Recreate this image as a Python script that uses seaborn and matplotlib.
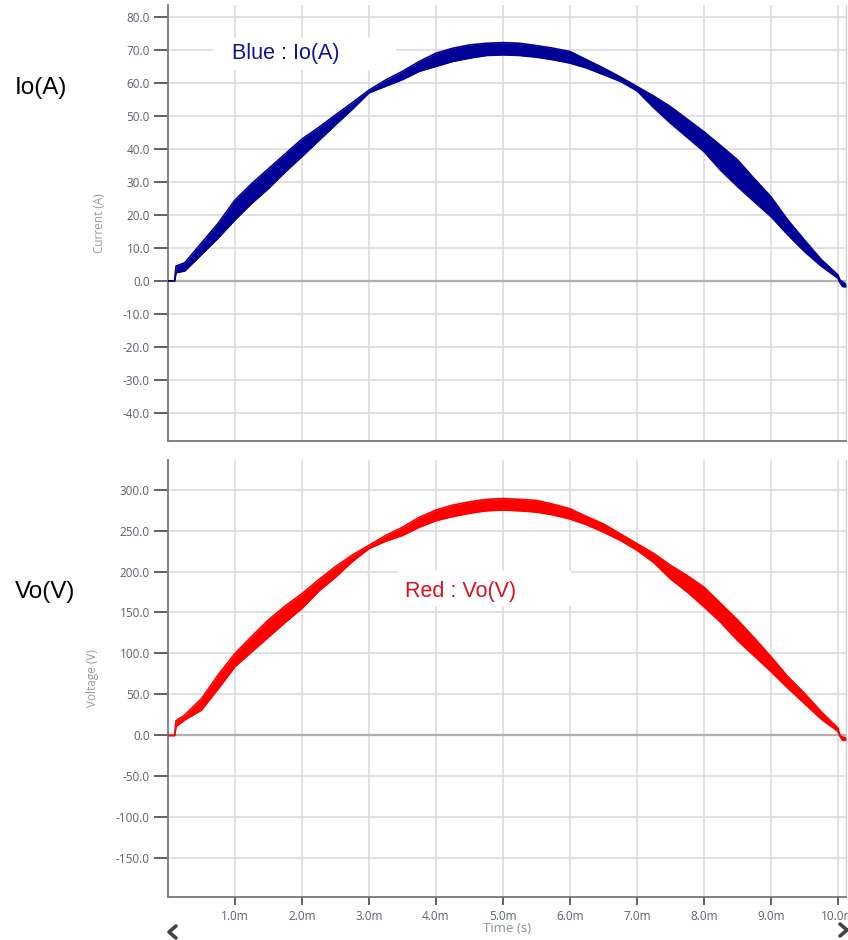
import seaborn as sns
import matplotlib.pyplot as plt
from matplotlib.patches import Rectangle
from matplotlib.lines import Line2D
from matplotlib.ticker import FixedLocator, FuncFormatter

# time axis in ms (upper / lower edge of the ripple band)
time_ms = [0.0, 0.1, 0.12, 0.25,
           0.5, 0.75, 1.0, 1.25, 1.5, 1.75, 2.0, 2.25, 2.5, 2.75,
           3.0, 3.25, 3.5, 3.75, 4.0, 4.25, 4.5, 4.75, 5.0, 5.25,
           5.5, 5.75, 6.0, 6.25, 6.5, 6.75, 7.0, 7.25, 7.5, 7.75,
           8.0, 8.25, 8.5, 8.75, 9.0, 9.25, 9.5, 9.75, 10.0,
           10.03, 10.07, 10.12]

io_upper = [0, 0, 4.5, 5.5,
            11.5, 17.5, 24.5, 29.5, 34.0, 38.5, 43.0, 46.5, 50.3, 54.0,
            57.8, 60.9, 63.5, 66.5, 69.0, 70.5, 71.5, 72.0, 72.2, 72.0,
            71.3, 70.5, 69.5, 67.0, 64.5, 61.8, 58.9, 56.0, 52.8, 49.0,
            45.2, 41.0, 36.7, 31.0, 25.5, 18.5, 12.4, 6.5, 1.8,
            0.3, -0.3, -1.0]
io_lower = [0, 0, 2.5, 3.0,
            8.0, 13.0, 18.5, 23.5, 28.0, 33.0, 37.7, 42.5, 47.3, 52.0,
            57.0, 59.0, 61.0, 63.5, 65.0, 66.5, 67.5, 68.3, 68.5, 68.3,
            67.8, 67.0, 66.0, 64.5, 62.5, 60.5, 57.6, 52.5, 47.8, 43.5,
            39.2, 33.5, 28.6, 24.0, 19.5, 14.0, 8.9, 4.5, 0.8,
            -0.5, -1.7, -1.8]

vo_upper = [0, 0, 18, 25,
            45, 74, 100, 121, 141, 158, 173, 190, 206, 220,
            232, 244, 254, 266, 275, 281, 285, 288, 289, 288,
            286.7, 282, 276.5, 267, 258, 246, 234, 222, 207.6, 195,
            181, 161, 141, 119, 96, 72, 51.5, 29, 9,
            0, -2, -3]
vo_lower = [0, 0, 11, 19,
            31, 57, 84, 102, 120, 138, 155, 176, 193, 212,
            228, 237, 244, 254, 262, 267, 271, 274, 275, 274,
            272.5, 269, 264, 257, 248, 238, 226, 211, 191, 175,
            157, 138, 116, 97, 78, 58, 39, 20, 5,
            -1, -6, -6]

x_ticks = [1, 2, 3, 4, 5, 6, 7, 8, 9, 10]
io_ticks = [-40, -30, -20, -10, 0, 10, 20, 30, 40, 50, 60, 70, 80]
vo_ticks = [-150, -100, -50, 0, 50, 100, 150, 200, 250, 300]

sns.set_style("white")
plt.rcParams['font.family'] = ['Open Sans', 'DejaVu Sans']

W, H = 848, 940
fig = plt.figure(figsize=(W / 100, H / 100), dpi=100)


def px_box(l, t, r, b):
    return [l / W, 1 - b / H, (r - l) / W, (b - t) / H]


ax1 = fig.add_axes(px_box(168, 5, 846, 441))
ax2 = fig.add_axes(px_box(168, 460, 846, 897))

tick_col = '#5b6370'
for ax, up, lo, col, yt, ylim, ylab, lab_x in [
        (ax1, io_upper, io_lower, '#000096', io_ticks, (-48.5, 83.6), 'Current (A)', -0.0915),
        (ax2, vo_upper, vo_lower, '#ff0000', vo_ticks, (-197, 336), 'Voltage (V)', -0.102)]:
    ax.fill_between(time_ms, lo, up, color=col, lw=0, zorder=3)
    sns.lineplot(x=time_ms, y=up, ax=ax, color=col, lw=1.2, zorder=4)
    sns.lineplot(x=time_ms, y=lo, ax=ax, color=col, lw=1.2, zorder=4)
    ax.axhline(0, color='#b0b0b0', lw=1.6, zorder=2)
    ax.set_xlim(0, 10.12)
    ax.set_ylim(*ylim)
    ax.xaxis.set_major_locator(FixedLocator(x_ticks))
    ax.yaxis.set_major_locator(FixedLocator(yt))
    ax.yaxis.set_major_formatter(FuncFormatter(lambda v, p: f"{v:.1f}"))
    ax.grid(True, color='#d9d9d9', lw=1.1)
    ax.set_axisbelow(True)
    ax.spines['top'].set_visible(False)
    ax.spines['right'].set_color('#d0d0d0')
    ax.spines['right'].set_linewidth(1.0)
    for s in ['left', 'bottom']:
        ax.spines[s].set_color('#777777')
        ax.spines[s].set_linewidth(1.3)
    ax.tick_params(axis='y', left=True, length=10, width=1.3, color='#555555',
                   labelcolor=tick_col, labelsize=8.5, pad=3)
    ax.set_ylabel(ylab, color='#9a9a9a', fontsize=8.5)
    ax.yaxis.set_label_coords(lab_x, 0.5)

ax1.tick_params(axis='x', bottom=False, labelbottom=False)
ax1.set_xlabel('')
ax2.xaxis.set_major_formatter(FuncFormatter(lambda v, p: f"{v:.1f}m"))
ax2.tick_params(axis='x', bottom=True, length=6, width=1.3, color='#555555',
                labelcolor=tick_col, labelsize=8.5, pad=3)
ax2.set_xlabel('Time (s)', color='#8a8f99', fontsize=9.5)
ax2.xaxis.set_label_coords(0.5, -0.058)

# white label boxes sitting over the grid
for l, t, r, b in [(213, 38, 395, 69), (398, 571, 570, 605)]:
    fig.add_artist(Rectangle((l / W, 1 - b / H), (r - l) / W, (b - t) / H,
                             transform=fig.transFigure, color='white', zorder=1))

arial = ['Liberation Sans', 'DejaVu Sans']
fig.text(286 / W, 1 - 54 / H, 'Blue : Io(A)', color='#10109a', fontsize=15.5,
         family=arial, ha='center', va='center', zorder=2)
fig.text(461 / W, 1 - 591 / H, 'Red : Vo(V)', color='#dc0f1e', fontsize=15.5,
         family=arial, ha='center', va='center', zorder=2)
fig.text(15 / W, 1 - 88 / H, 'Io(A)', color='black', fontsize=17.5,
         family=arial, ha='left', va='center')
fig.text(15 / W, 1 - 592 / H, 'Vo(V)', color='black', fontsize=17.5,
         family=arial, ha='left', va='center')

# scroll chevrons under the time axis
for xs, ys in [([176, 169, 176], [926, 932, 938]), ([840, 847, 840], [924, 930, 936])]:
    fig.add_artist(Line2D([x / W for x in xs], [1 - y / H for y in ys],
                          transform=fig.transFigure, color='#444444', lw=2.6))

fig.savefig('out.png', dpi=100)
